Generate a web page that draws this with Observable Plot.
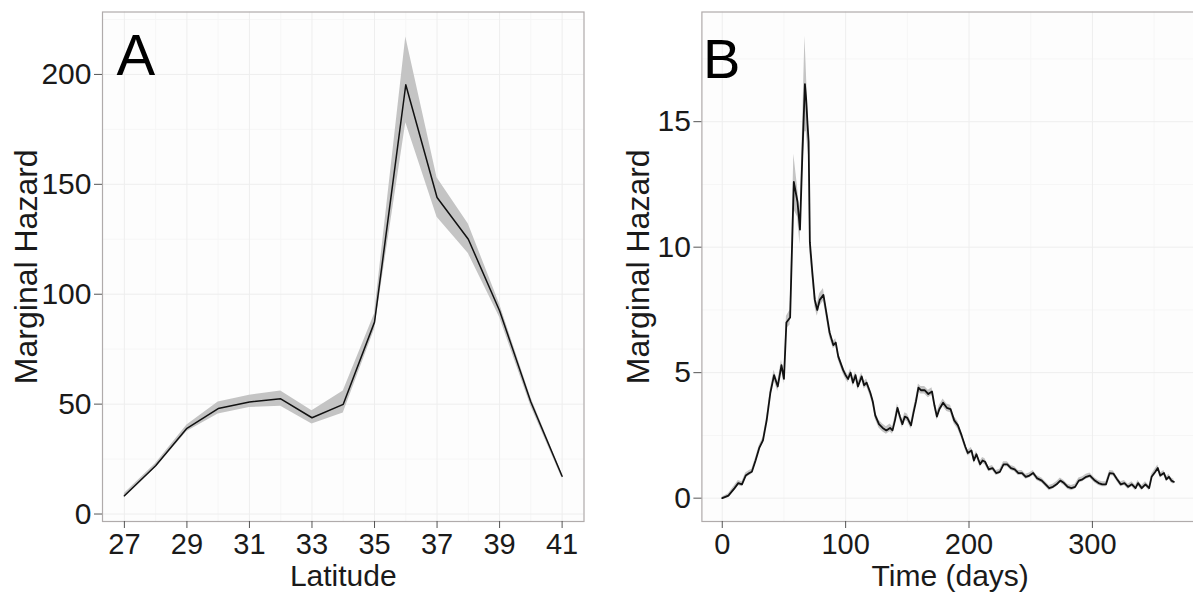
<!DOCTYPE html>
<html>
<head>
<meta charset="utf-8">
<script src="https://cdn.jsdelivr.net/npm/d3@7"></script>
<script src="https://cdn.jsdelivr.net/npm/@observablehq/plot@0.6"></script>
<style>
  html, body { margin: 0; padding: 0; background: #ffffff; overflow: hidden; }
  #wrap { position: relative; width: 1193px; height: 593px; overflow: hidden; }
  #panelA { position: absolute; left: 0; top: 0; width: 600px; height: 593px; }
  #panelB { position: absolute; left: 600px; top: 0; width: 605px; height: 593px; }
  #wrap svg { max-width: none !important; }
</style>
</head>
<body>
<div id="wrap"><div id="panelA"></div><div id="panelB"></div></div>
<script>
// ---------- Panel A: marginal hazard by latitude ----------
const latitude = [27, 28, 29, 30, 31, 32, 33, 34, 35, 36, 37, 38, 39, 40, 41];
const hazardA  = [8.3, 22, 39, 48, 51, 52.4, 43.8, 49.9, 87.3, 195.3, 144, 125, 92.5, 51, 17.2];
const lowerA   = [7.3, 21, 37.5, 45.5, 48.5, 49, 41, 46, 84, 178, 135, 118.5, 89.5, 49, 16.2];
const upperA   = [9.3, 23, 40.5, 51, 54, 56, 47, 56, 91, 217, 153, 132, 95.5, 53, 18.2];
const latTicks = [27, 29, 31, 33, 35, 37, 39, 41];
const latMinor = [28, 30, 32, 34, 36, 38, 40];
const hazTicksA = [0, 50, 100, 150, 200];
const hazMinorA = [25, 75, 125, 175, 225];

// ---------- Panel B: marginal hazard by time ----------
const days = [
  0, 5, 10, 13, 16, 19, 22, 24, 27, 30,
  33, 36, 39, 42, 45, 48, 50, 52, 55, 56,
  58, 61, 63, 65, 67, 68, 69, 70, 71, 73,
  75, 77, 79, 82, 84, 87, 90, 92, 94, 98,
  100, 102, 104, 106, 108, 110, 113, 115, 117, 120,
  122, 124, 127, 130, 133, 136, 138, 140, 142, 144,
  146, 148, 150, 153, 155, 157, 159, 161, 164, 167,
  170, 172, 174, 176, 179, 182, 185, 188, 191, 194,
  197, 199, 202, 204, 206, 209, 211, 213, 216, 219,
  222, 225, 228, 231, 234, 237, 240, 243, 246, 249,
  252, 255, 259, 262, 265, 268, 271, 274, 277, 280,
  283, 286, 289, 292, 295, 298, 302, 305, 308, 311,
  314, 317, 320, 323, 326, 329, 332, 335, 337, 340,
  343, 346, 348, 351, 353, 355, 358, 360, 362, 364,
  366
];
const hazardB = [
  0, 0.1, 0.4, 0.6, 0.55, 0.9, 1.0, 1.05, 1.5, 2.0,
  2.3, 3.1, 4.2, 4.9, 4.45, 5.3, 4.75, 7.0, 7.2, 9.0,
  12.6, 11.8, 10.7, 13.8, 16.5, 15.9, 15.0, 14.2, 10.2, 9.0,
  7.9, 7.5, 7.9, 8.1, 7.5, 6.6, 6.1, 6.2, 5.65, 5.1,
  4.9, 4.75, 5.0, 4.6, 4.9, 4.45, 4.85, 4.5, 4.6, 4.2,
  3.85, 3.3, 2.95, 2.8, 2.7, 2.8, 2.7, 3.1, 3.6, 3.25,
  2.95, 3.25, 3.2, 2.9, 3.4, 3.85, 4.4, 4.3, 4.3, 4.15,
  4.25, 3.7, 3.25, 3.55, 3.8, 3.6, 3.55, 3.1, 2.9, 2.5,
  2.05, 1.8, 1.9, 1.5, 1.75, 1.35, 1.5, 1.45, 1.15, 1.2,
  1.0, 1.05, 1.35, 1.35, 1.2, 1.15, 1.0, 1.0, 0.85, 0.9,
  1.0, 0.8, 0.7, 0.55, 0.4, 0.45, 0.55, 0.7, 0.6, 0.45,
  0.4, 0.45, 0.7, 0.75, 0.85, 0.9, 0.7, 0.6, 0.55, 0.55,
  1.0, 0.98, 0.75, 0.55, 0.6, 0.45, 0.55, 0.4, 0.6, 0.4,
  0.55, 0.4, 0.85, 1.05, 1.2, 0.9, 1.0, 0.75, 0.85, 0.7,
  0.65
];
const ciB = [
  0.05, 0.08, 0.1, 0.1, 0.1, 0.1, 0.1, 0.1, 0.1, 0.1,
  0.12, 0.15, 0.15, 0.2, 0.2, 0.2, 0.2, 0.25, 0.3, 0.5,
  1.1, 0.6, 0.6, 0.9, 1.9, 1.3, 0.9, 0.6, 0.4, 0.3,
  0.25, 0.25, 0.25, 0.25, 0.2, 0.2, 0.15, 0.15, 0.15, 0.15,
  0.15, 0.15, 0.15, 0.15, 0.15, 0.15, 0.15, 0.15, 0.15, 0.15,
  0.15, 0.15, 0.15, 0.15, 0.15, 0.15, 0.15, 0.15, 0.15, 0.15,
  0.15, 0.15, 0.15, 0.15, 0.15, 0.15, 0.15, 0.15, 0.15, 0.15,
  0.15, 0.15, 0.15, 0.15, 0.15, 0.15, 0.15, 0.15, 0.15, 0.12,
  0.12, 0.12, 0.12, 0.12, 0.12, 0.12, 0.12, 0.12, 0.1, 0.1,
  0.1, 0.1, 0.1, 0.1, 0.1, 0.1, 0.1, 0.1, 0.1, 0.1,
  0.1, 0.1, 0.1, 0.1, 0.1, 0.1, 0.1, 0.1, 0.1, 0.1,
  0.1, 0.1, 0.1, 0.1, 0.1, 0.1, 0.1, 0.1, 0.1, 0.1,
  0.1, 0.1, 0.1, 0.1, 0.1, 0.1, 0.1, 0.1, 0.1, 0.1,
  0.1, 0.1, 0.1, 0.12, 0.12, 0.1, 0.1, 0.1, 0.1, 0.1,
  0.1
];
const dayTicks = [0, 100, 200, 300];
const dayMinor = [50, 150, 250, 350];
const hazTicksB = [0, 5, 10, 15];
const hazMinorB = [2.5, 7.5, 12.5, 17.5];

const FONT = "'Liberation Sans', Arial, Helvetica, sans-serif";
const INK = "#1a1a1a";
const TICK = "#555555";
const FRAME = "#b0abab";
const GRID = "#eeeeee";
const GRID_MINOR = "#f6f6f6";
const BAND = "#c4c4c4";

const dataA = latitude.map((lat, i) => ({lat, v: hazardA[i], lo: lowerA[i], hi: upperA[i]}));
const dataB = days.map((d, i) => ({d, v: hazardB[i], lo: hazardB[i] - ciB[i], hi: hazardB[i] + ciB[i]}));

function commonAxes(xTicks, yTicks) {
  return [
    Plot.axisX(xTicks, {anchor: "bottom", tickSize: 7, tickPadding: 5, fontSize: 29,
      stroke: TICK, fill: INK, label: null}),
    Plot.axisY(yTicks, {anchor: "left", tickSize: 8, tickPadding: 3, fontSize: 30,
      stroke: TICK, fill: INK, label: null})
  ];
}

const plotA = Plot.plot({
  width: 600, height: 593,
  marginLeft: 102, marginRight: 16.5, marginTop: 11.5, marginBottom: 72,
  style: {fontFamily: FONT, background: "transparent", overflow: "visible", maxWidth: "none"},
  x: {domain: [26.3, 41.7]},
  y: {domain: [-3.4, 228.4]},
  marks: [
    Plot.frame({fill: "#fdfdfd", stroke: null}),
    Plot.gridX(latMinor, {stroke: GRID_MINOR, strokeOpacity: 1}),
    Plot.gridY(hazMinorA, {stroke: GRID_MINOR, strokeOpacity: 1}),
    Plot.gridX(latTicks, {stroke: GRID, strokeOpacity: 1}),
    Plot.gridY(hazTicksA, {stroke: GRID, strokeOpacity: 1}),
    Plot.areaY(dataA, {x: "lat", y1: "lo", y2: "hi", fill: BAND}),
    Plot.lineY(dataA, {x: "lat", y: "v", stroke: "#111111", strokeWidth: 1.5}),
    Plot.frame({stroke: FRAME, strokeWidth: 1.2}),
    ...commonAxes(latTicks, hazTicksA),
    Plot.text(["A"], {frameAnchor: "top-left", textAnchor: "start", lineAnchor: "top",
      dx: 14, dy: 22, fontSize: 58, fill: "#000"}),
    Plot.text(["Latitude"], {frameAnchor: "bottom", textAnchor: "middle", lineAnchor: "top",
      dy: 43, fontSize: 30, fill: INK}),
    Plot.text(["Marginal Hazard"], {frameAnchor: "left", textAnchor: "middle", lineAnchor: "middle",
      rotate: -90, dx: -76, fontSize: 32, fill: INK})
  ]
});

const plotB = Plot.plot({
  width: 605, height: 593,
  marginLeft: 101.4, marginRight: 7, marginTop: 11.5, marginBottom: 72,
  style: {fontFamily: FONT, background: "transparent", overflow: "visible", maxWidth: "none"},
  x: {domain: [-16.5, 386]},
  y: {domain: [-0.93, 19.37]},
  marks: [
    Plot.frame({fill: "#fdfdfd", stroke: null}),
    Plot.gridX(dayMinor, {stroke: GRID_MINOR, strokeOpacity: 1}),
    Plot.gridY(hazMinorB, {stroke: GRID_MINOR, strokeOpacity: 1}),
    Plot.gridX(dayTicks, {stroke: GRID, strokeOpacity: 1}),
    Plot.gridY(hazTicksB, {stroke: GRID, strokeOpacity: 1}),
    Plot.areaY(dataB, {x: "d", y1: "lo", y2: "hi", fill: BAND}),
    Plot.lineY(dataB, {x: "d", y: "v", stroke: "#111111", strokeWidth: 1.8}),
    Plot.frame({stroke: FRAME, strokeWidth: 1.2}),
    ...commonAxes(dayTicks, hazTicksB),
    Plot.text(["B"], {frameAnchor: "top-left", textAnchor: "start", lineAnchor: "top",
      dx: 1, dy: 26, fontSize: 56, fill: "#000"}),
    Plot.text(["Time (days)"], {frameAnchor: "bottom", textAnchor: "middle", lineAnchor: "top",
      dy: 43, fontSize: 30, fill: INK}),
    Plot.text(["Marginal Hazard"], {frameAnchor: "left", textAnchor: "middle", lineAnchor: "middle",
      rotate: -90, dx: -63.5, fontSize: 32, fill: INK})
  ]
});

document.getElementById("panelA").appendChild(plotA);
document.getElementById("panelB").appendChild(plotB);
</script>
</body>
</html>
